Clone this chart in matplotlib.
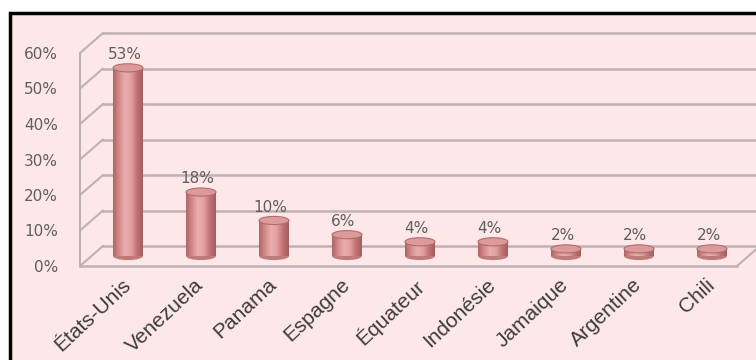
import matplotlib.pyplot as plt
import numpy as np
from matplotlib.patches import Rectangle, Ellipse, ConnectionPatch
from matplotlib.transforms import offset_copy
from matplotlib.colors import LinearSegmentedColormap

# données
pays = ["États-Unis", "Venezuela", "Panama", "Espagne", "Équateur",
        "Indonésie", "Jamaique", "Argentine", "Chili"]
parts = [53, 18, 10, 6, 4, 4, 2, 2, 2]
graduations = [0, 10, 20, 30, 40, 50, 60]

fond = "#fde7e8"
grille = "#bfb1b1"

fig = plt.figure(figsize=(7.56, 3.6), dpi=100)
fig.patch.set_facecolor("white")
# cadre rose avec bord noir (seuls gauche et haut visibles)
fig.patches.append(Rectangle((10 / 756, -0.05), 1.2, 0.05 + 347 / 360,
                             transform=fig.transFigure, facecolor=fond,
                             edgecolor="black", linewidth=2.5, zorder=-5))

ax = fig.add_axes([80 / 756, 94 / 360, 657 / 756, 213 / 360])
ax.set_zorder(1)
ax.set_xlim(0, len(pays))
ax.set_ylim(0, 60)
ax.patch.set_alpha(0)
for s in ax.spines.values():
    s.set_visible(False)
ax.set_xticks([])
ax.set_yticks(graduations)
ax.set_yticklabels([f"{g}%" for g in graduations], color="#5e5e5e",
                   fontsize=11, family="DejaVu Sans")
ax.tick_params(axis="y", length=0, pad=16)

# profondeur 3D
fond_mur = offset_copy(ax.transData, fig=fig, x=23, y=20, units="dots")
milieu = offset_copy(ax.transData, fig=fig, x=11.5, y=10, units="dots")

# mur du fond et plancher
for g in graduations:
    ax.plot([0, 9.2], [g, g], color=grille, lw=1.8, transform=fond_mur,
            clip_on=False, zorder=1)
    ax.add_artist(ConnectionPatch((0, g), (0, g), ax.transData, fond_mur,
                                  color=grille, lw=1.5, zorder=1))
ax.plot([0, 0], [0, 60], color=grille, lw=1.5, zorder=1, clip_on=False)
ax.plot([0, len(pays)], [0, 0], color=grille, lw=1.8, zorder=1, clip_on=False)
ax.add_artist(ConnectionPatch((len(pays), 0), (len(pays), 0), ax.transData,
                              fond_mur, color=grille, lw=1.5, zorder=1))

# cylindres
cmap = LinearSegmentedColormap.from_list(
    "cyl", ["#b06666", "#d68a8a", "#e9aeae", "#e39f9f", "#c07474", "#a45c5c"])
degrade = np.linspace(0, 1, 64).reshape(1, -1)
w = 0.41
h_ell = 2.3
for i, v in enumerate(parts):
    x = i + 0.5
    ax.add_patch(Ellipse((x, 0), w, h_ell, transform=milieu,
                         facecolor="#c07a7a", edgecolor="none", zorder=2))
    corps = Rectangle((x - w / 2, 0), w, v, transform=milieu,
                      facecolor="#d99494", edgecolor="none", zorder=3)
    ax.add_patch(corps)
    im = ax.imshow(degrade, cmap=cmap, aspect="auto", zorder=3,
                   extent=(x - w / 2, x + w / 2, 0, v), transform=milieu)
    im.set_clip_path(corps)
    ax.add_patch(Ellipse((x, v), w, h_ell, transform=milieu,
                         facecolor="#dc9a9a", edgecolor="#b06c6c", lw=0.8,
                         zorder=4))
    lab = offset_copy(ax.transData, fig=fig, x=8, y=16, units="dots")
    ax.text(x, v, f"{v}%", transform=lab, ha="center", va="bottom",
            fontsize=11, color="#5e5e5e", family="DejaVu Sans", zorder=5)

ax.set_xlim(0, len(pays))
ax.set_ylim(0, 60)

# étiquettes des pays
etiq = offset_copy(ax.transData, fig=fig, x=5, y=-9, units="dots")
for i, p in enumerate(pays):
    ax.text(i + 0.5, 0, p, transform=etiq, rotation=43, ha="right", va="top",
            rotation_mode="anchor", fontsize=15, color="#3c3c3c",
            family="Liberation Sans")

fig.savefig("out.png", dpi=100)
